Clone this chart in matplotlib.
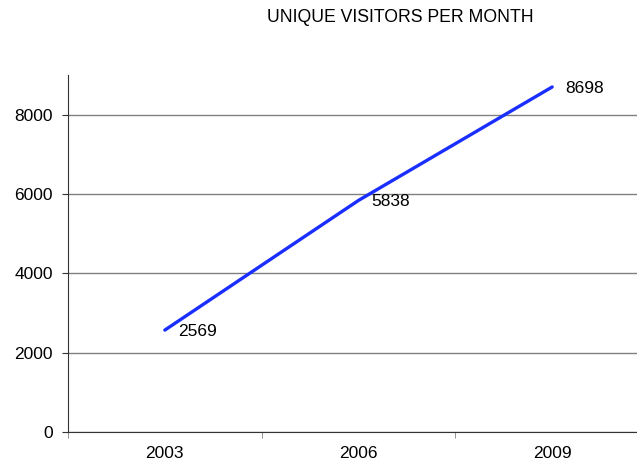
import numpy as np
import matplotlib.pyplot as plt

plt.rcParams['font.family'] = ['Liberation Sans', 'DejaVu Sans']

# data
years = ["2003", "2006", "2009"]
visitors = [2569, 5838, 8698]

fig = plt.figure(figsize=(6.37, 4.66), dpi=100)
W, H = 637, 466
ax = fig.add_axes([68 / W, (H - 432) / H, 581 / W, (432 - 75) / H])

x = np.arange(len(years))
ax.plot(x, visitors, color="#1a2eff", linewidth=2.4, solid_capstyle="round", zorder=3)
for xi, v in zip(x, visitors):
    ax.annotate(str(v), (xi, v), xytext=(9.5, -1), textcoords="offset points",
                fontsize=12.5, va="center", ha="left", color="black")

ax.set_xlim(-0.5, 2.5)
ax.set_ylim(0, 9000)
ax.set_yticks([0, 2000, 4000, 6000, 8000])
ax.yaxis.grid(True, color="#808080", linewidth=1)
ax.set_axisbelow(True)

ax.set_xticks(x)
ax.set_xticklabels(years, fontsize=12.5)
ax.set_xticks([-0.5, 0.5, 1.5], minor=True)
ax.tick_params(axis="x", which="major", length=0, pad=10)
ax.tick_params(axis="x", which="minor", length=4, color="#808080")
ax.tick_params(axis="y", length=4, labelsize=12.5, pad=7, color="#333333")

for s in ["top", "right"]:
    ax.spines[s].set_visible(False)
ax.spines["left"].set_color("#333333")
ax.spines["bottom"].set_color("#333333")

fig.text(400 / W, 1 - 18 / H, "UNIQUE VISITORS PER MONTH", ha="center", va="center", fontsize=12.7)

fig.savefig("out.png", dpi=100)
